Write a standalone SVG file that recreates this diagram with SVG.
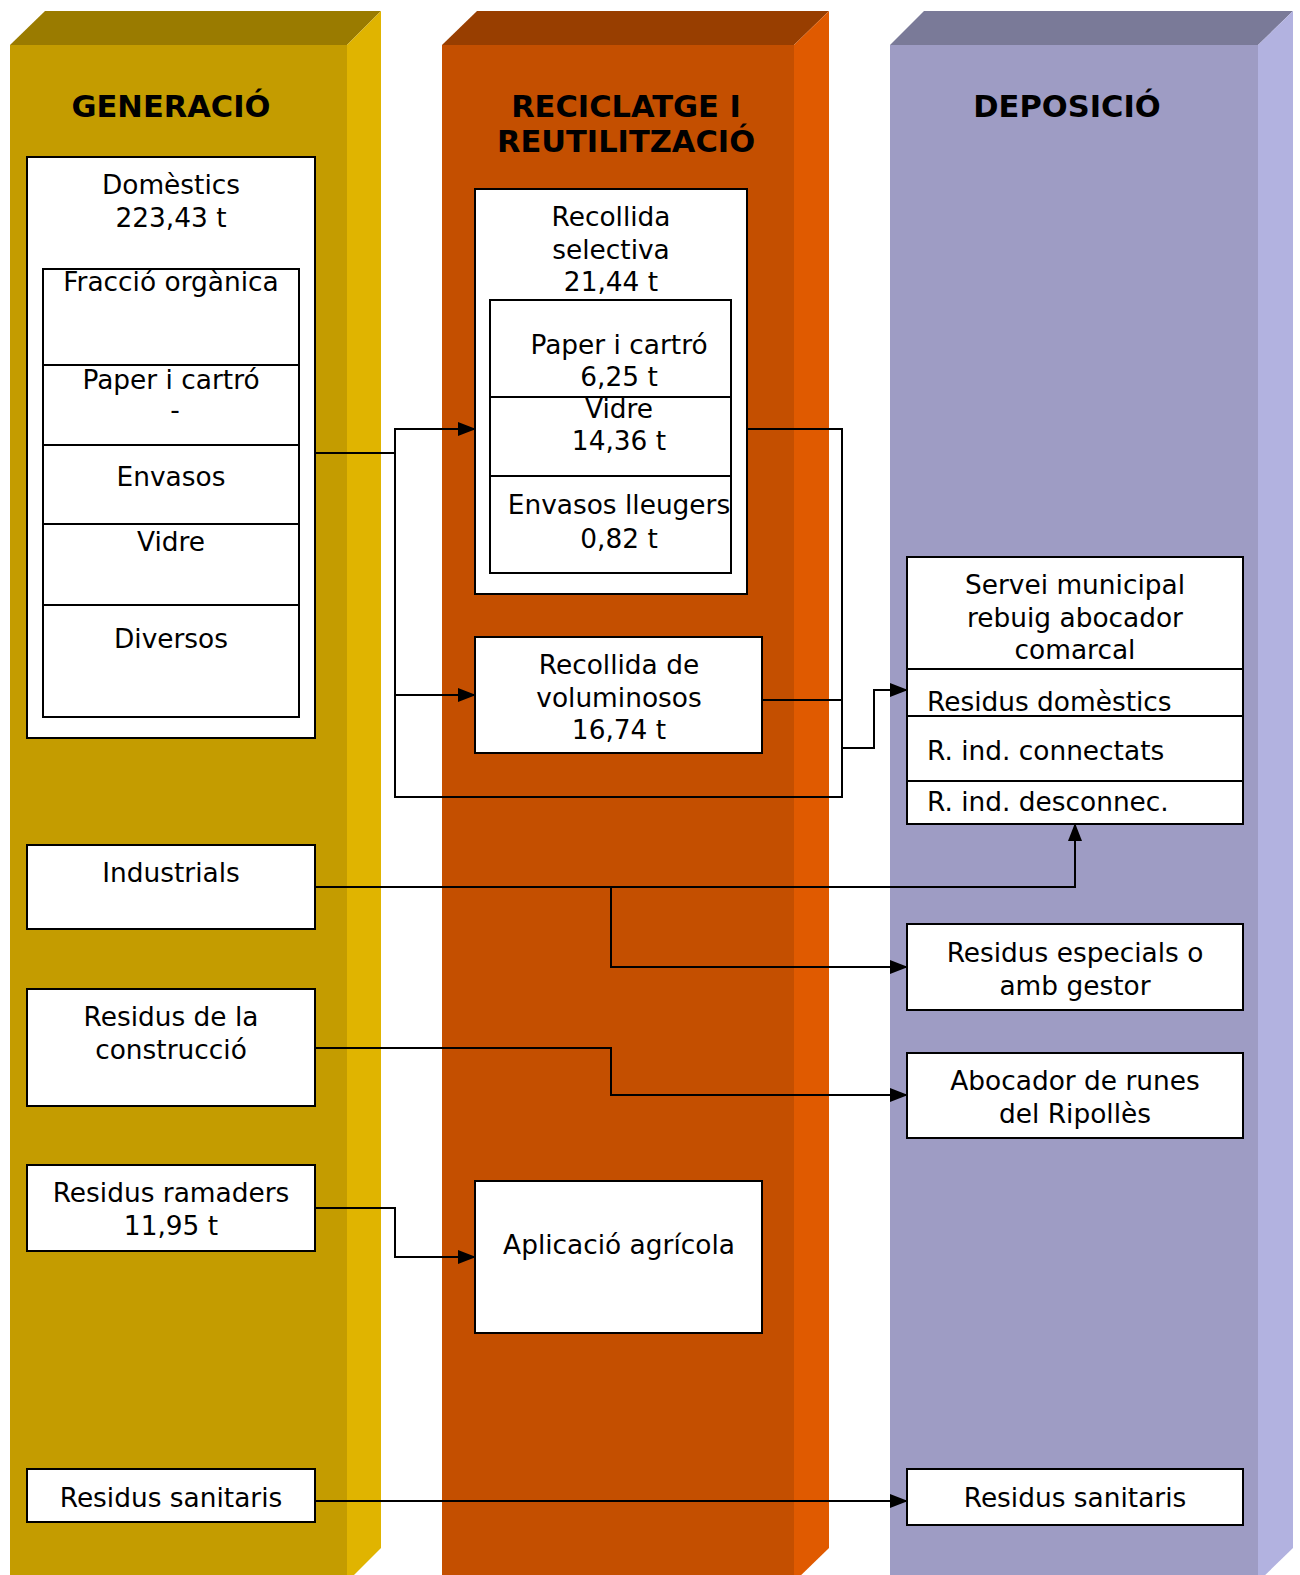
<svg xmlns="http://www.w3.org/2000/svg" width="1300" height="1575" viewBox="0 0 1300 1575">
<defs>
<style>
.box{fill:#fff;stroke:#000;stroke-width:2}
.t{font-family:"DejaVu Sans","Verdana",sans-serif;font-size:26.4px;fill:#000}
.c{text-anchor:middle}
.h{font-family:"DejaVu Sans","Verdana",sans-serif;font-size:30.5px;font-weight:bold;fill:#000;text-anchor:middle}
.ln{fill:none;stroke:#000;stroke-width:2}
.ar{marker-end:url(#arr)}
</style>
<marker id="arr" markerUnits="userSpaceOnUse" markerWidth="18" markerHeight="16" refX="17" refY="8" orient="auto">
<path d="M0,1 L18,8 L0,15 Z" fill="#000"/>
</marker>
</defs>
<rect width="1300" height="1575" fill="#fff"/>
<g id="col-generacio">
<rect x="10" y="45" width="337" height="1540" fill="#C49C00"/>
<polygon points="10,45 45,11 381,11 347,45" fill="#9A7B00"/>
<polygon points="347,45 381,11 381,1548 347,1582" fill="#E0B400"/>
<text class="h" x="171" y="117">GENERACIÓ</text>
</g>
<g id="col-reciclatge">
<rect x="442" y="45" width="352" height="1540" fill="#C44F00"/>
<polygon points="442,45 477,11 829,11 794,45" fill="#983E00"/>
<polygon points="794,45 829,11 829,1548 794,1582" fill="#E05A00"/>
<text class="h" x="626" y="117">RECICLATGE I</text>
<text class="h" x="626" y="152">REUTILITZACIÓ</text>
</g>
<g id="col-deposicio">
<rect x="890" y="45" width="368" height="1540" fill="#9E9CC4"/>
<polygon points="890,45 924,11 1293,11 1258,45" fill="#7A7A98"/>
<polygon points="1258,45 1293,11 1293,1548 1258,1582" fill="#B2B2E0"/>
<text class="h" x="1067" y="117">DEPOSICIÓ</text>
</g>
<g id="connectors">
<path class="ln ar" d="M315,453 H395 V429 H475"/>
<path class="ln ar" d="M395,453 V695 H475"/>
<path class="ln" d="M395,695 V797 H842 V429 H747"/>
<path class="ln" d="M762,700 H842"/>
<path class="ln ar" d="M842,748 H874 V690 H907"/>
<path class="ln ar" d="M315,887 H1075 V824"/>
<path class="ln ar" d="M611,887 V967 H907"/>
<path class="ln ar" d="M315,1048 H611 V1095 H907"/>
<path class="ln ar" d="M315,1208 H395 V1257 H475"/>
<path class="ln ar" d="M315,1501 H907"/>
</g>
<g id="domestics">
<rect class="box" x="27" y="157" width="288" height="581"/>
<text class="t c" x="171" y="194">Domèstics</text>
<text class="t c" x="171" y="227">223,43 t</text>
<rect class="box" x="43" y="269" width="256" height="448"/>
<line class="ln" x1="43" y1="365" x2="299" y2="365"/>
<line class="ln" x1="43" y1="445" x2="299" y2="445"/>
<line class="ln" x1="43" y1="524" x2="299" y2="524"/>
<line class="ln" x1="43" y1="605" x2="299" y2="605"/>
<text class="t c" x="171" y="291">Fracció orgànica</text>
<text class="t c" x="171" y="389">Paper i cartró</text>
<text class="t c" x="175" y="419">-</text>
<text class="t c" x="171" y="486">Envasos</text>
<text class="t c" x="171" y="551">Vidre</text>
<text class="t c" x="171" y="648">Diversos</text>
</g>
<g id="industrials">
<rect class="box" x="27" y="845" width="288" height="84"/>
<text class="t c" x="171" y="882">Industrials</text>
</g>
<g id="construccio">
<rect class="box" x="27" y="989" width="288" height="117"/>
<text class="t c" x="171" y="1026">Residus de la</text>
<text class="t c" x="171" y="1059">construcció</text>
</g>
<g id="ramaders">
<rect class="box" x="27" y="1165" width="288" height="86"/>
<text class="t c" x="171" y="1202">Residus ramaders</text>
<text class="t c" x="171" y="1235">11,95 t</text>
</g>
<g id="sanitaris-gen">
<rect class="box" x="27" y="1469" width="288" height="53"/>
<text class="t c" x="171" y="1507">Residus sanitaris</text>
</g>
<g id="selectiva">
<rect class="box" x="475" y="189" width="272" height="405"/>
<text class="t c" x="611" y="226">Recollida</text>
<text class="t c" x="611" y="259">selectiva</text>
<text class="t c" x="611" y="291">21,44 t</text>
<rect class="box" x="490" y="300" width="241" height="273"/>
<line class="ln" x1="490" y1="397" x2="731" y2="397"/>
<line class="ln" x1="490" y1="476" x2="731" y2="476"/>
<text class="t c" x="619" y="354">Paper i cartró</text>
<text class="t c" x="619" y="386">6,25 t</text>
<text class="t c" x="619" y="418">Vidre</text>
<text class="t c" x="619" y="450">14,36 t</text>
<text class="t c" x="619" y="514">Envasos lleugers</text>
<text class="t c" x="619" y="548">0,82 t</text>
</g>
<g id="voluminosos">
<rect class="box" x="475" y="637" width="287" height="116"/>
<text class="t c" x="619" y="674">Recollida de</text>
<text class="t c" x="619" y="707">voluminosos</text>
<text class="t c" x="619" y="739">16,74 t</text>
</g>
<g id="aplicacio">
<rect class="box" x="475" y="1181" width="287" height="152"/>
<text class="t c" x="619" y="1254">Aplicació agrícola</text>
</g>
<g id="servei">
<rect class="box" x="907" y="557" width="336" height="267"/>
<line class="ln" x1="907" y1="669" x2="1243" y2="669"/>
<line class="ln" x1="907" y1="716" x2="1243" y2="716"/>
<line class="ln" x1="907" y1="781" x2="1243" y2="781"/>
<text class="t c" x="1075" y="594">Servei municipal</text>
<text class="t c" x="1075" y="627">rebuig abocador</text>
<text class="t c" x="1075" y="659">comarcal</text>
<text class="t" x="927" y="711">Residus domèstics</text>
<text class="t" x="927" y="760">R. ind. connectats</text>
<text class="t" x="927" y="811">R. ind. desconnec.</text>
</g>
<g id="especials">
<rect class="box" x="907" y="924" width="336" height="86"/>
<text class="t c" x="1075" y="962">Residus especials o</text>
<text class="t c" x="1075" y="995">amb gestor</text>
</g>
<g id="runes">
<rect class="box" x="907" y="1053" width="336" height="85"/>
<text class="t c" x="1075" y="1090">Abocador de runes</text>
<text class="t c" x="1075" y="1123">del Ripollès</text>
</g>
<g id="sanitaris-dep">
<rect class="box" x="907" y="1469" width="336" height="56"/>
<text class="t c" x="1075" y="1507">Residus sanitaris</text>
</g>
</svg>
